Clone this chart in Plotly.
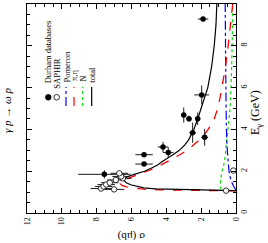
import plotly.graph_objects as go

# ---------------- data (E in GeV, sigma in microbarn) ----------------
durham_E = [9.28, 5.65, 4.69, 4.51, 4.51, 3.84, 3.62, 3.16, 2.89, 2.79, 2.34, 1.85]
durham_sigma = [1.89, 1.97, 3.00, 2.70, 2.20, 2.49, 1.80, 4.19, 3.89, 5.28, 5.28, 7.56]
durham_dE = [0.0, 0.45, 0.36, 0.15, 0.30, 0.48, 0.40, 0.25, 0.25, 0.10, 0.05, 0.20]
durham_dsigma = [0.30, 0.43, 0.15, 0.15, 0.15, 0.20, 0.20, 0.30, 0.30, 0.50, 0.50, 1.50]

saphir_E = [1.07, 1.13, 1.17, 1.27, 1.36, 1.45, 1.58, 1.66, 1.75, 1.90, 2.03]
saphir_sigma = [0.57, 7.00, 7.75, 7.60, 7.45, 7.25, 6.90, 6.50, 6.60, 6.70, 0.15]
saphir_dsigma = [0.0, 0.60, 0.60, 0.50, 0.50, 0.50, 0.50, 0.50, 0.50, 0.50, 0.0]

total_E = [1.07, 1.08, 1.09, 1.10, 1.12, 1.15, 1.20, 1.27, 1.35, 1.45, 1.55, 1.65, 1.75,
           1.85, 2.00, 2.15, 2.30, 2.45, 2.60, 2.80, 3.00, 3.25, 3.50, 3.75, 4.00,
           4.50, 5.00, 5.50, 6.00, 7.00, 8.00, 9.00, 10.0]
total_sigma = [0.0, 0.8, 1.8, 2.8, 3.8, 4.6, 5.3, 5.75, 6.05, 6.3, 6.42, 6.4, 6.2,
               5.85, 5.25, 4.85, 4.5, 4.25, 4.0, 3.6, 3.25, 2.95, 2.72, 2.55, 2.42,
               2.20, 2.00, 1.80, 1.62, 1.40, 1.25, 1.15, 1.10]

pieta_E = [1.06, 1.07, 1.08, 1.09, 1.11, 1.14, 1.19, 1.25, 1.32, 1.40, 1.48, 1.58, 1.70,
           1.85, 2.00, 2.15, 2.30, 2.45, 2.60, 2.80, 3.00, 3.25, 3.50, 3.75, 4.00,
           4.50, 5.00, 5.50, 6.00, 7.00, 8.00, 9.00, 10.0]
pieta_sigma = [0.0, 1.2, 2.5, 3.5, 4.5, 5.3, 5.9, 6.3, 6.55, 6.65, 6.6, 6.4, 6.05,
               5.6, 5.05, 4.65, 4.3, 3.95, 3.6, 3.2, 2.8, 2.45, 2.1, 1.82, 1.60,
               1.25, 1.05, 0.92, 0.80, 0.60, 0.45, 0.30, 0.19]

pomeron_E = [1.10, 1.20, 1.30, 1.45, 1.60, 1.80, 2.00, 2.50, 3.00, 4.00, 6.00, 8.00, 10.0]
pomeron_sigma = [0.0, 0.08, 0.15, 0.23, 0.30, 0.36, 0.40, 0.45, 0.50, 0.55, 0.58, 0.60, 0.62]

nucleon_E = [1.08, 1.11, 1.15, 1.22, 1.30, 1.60, 2.00, 2.50, 3.40, 4.90, 7.00, 10.0]
nucleon_sigma = [0.50, 0.72, 0.85, 0.89, 0.90, 0.88, 0.80, 0.65, 0.55, 0.35, 0.25, 0.18]

legend_labels = ["Durham databases", "SAPHIR", "Pomeron", "π,η", "N", "total"]

FONT = "Liberation Serif"
W, H = 268, 243
L, R, T, B = 27, 236, 4, 213


def px(xp):
    return (xp - L) / (R - L)


def py(yp):
    return (B - yp) / (B - T)


fig = go.Figure()

fig.add_trace(go.Scatter(x=nucleon_sigma, y=nucleon_E, mode="lines",
                         line=dict(color="#00dd00", width=1.2, dash="dot", shape="spline", smoothing=0.6)))
fig.add_trace(go.Scatter(x=pomeron_sigma, y=pomeron_E, mode="lines",
                         line=dict(color="#0000ff", width=1.2, dash="dashdot", shape="spline", smoothing=0.6)))
fig.add_trace(go.Scatter(x=pieta_sigma, y=pieta_E, mode="lines",
                         line=dict(color="#ff0000", width=1.3, dash="dash")))
fig.add_trace(go.Scatter(x=total_sigma, y=total_E, mode="lines",
                         line=dict(color="black", width=1.2)))

fig.add_trace(go.Scatter(
    x=durham_sigma, y=durham_E, mode="markers",
    marker=dict(color="black", size=5.5, symbol="circle"),
    error_x=dict(type="data", array=durham_dsigma, color="black", thickness=0.9, width=0),
    error_y=dict(type="data", array=durham_dE, color="black", thickness=0.9, width=0)))
fig.add_trace(go.Scatter(
    x=saphir_sigma, y=saphir_E, mode="markers",
    marker=dict(color="white", size=5.5, symbol="circle", line=dict(color="black", width=0.8)),
    error_x=dict(type="data", array=saphir_dsigma, color="black", thickness=0.9, width=0)))

# ---------------- hand-drawn rotated legend ----------------
shapes = []
leg_x = [48.3, 56.7, 66.0, 74.0, 82.7, 91.7]
leg_text_center = [52, 73, 67.5, 76, 79, 75]
shapes.append(dict(type="circle", xref="paper", yref="paper",
                   x0=px(leg_x[0] - 2.8), x1=px(leg_x[0] + 2.8), y0=py(100.1), y1=py(94.5),
                   fillcolor="black", line=dict(color="black", width=0.8)))
shapes.append(dict(type="circle", xref="paper", yref="paper",
                   x0=px(leg_x[1] - 2.8), x1=px(leg_x[1] + 2.8), y0=py(100.1), y1=py(94.5),
                   fillcolor="white", line=dict(color="black", width=0.8)))
for xx, col, dash in [(leg_x[2], "#0000ff", "dashdot"), (leg_x[3], "#ff0000", "dash"),
                      (leg_x[4], "#00dd00", "dot"), (leg_x[5], "black", "solid")]:
    shapes.append(dict(type="line", xref="paper", yref="paper",
                       x0=px(xx), x1=px(xx), y0=py(106), y1=py(87),
                       line=dict(color=col, width=1.2, dash=dash)))

annotations = []
for xx, yc, lab in zip(leg_x, leg_text_center, legend_labels):
    annotations.append(dict(x=px(xx), y=py(yc), xref="paper", yref="paper",
                            text=lab, showarrow=False, textangle=-90,
                            xanchor="center", yanchor="middle",
                            font=dict(family=FONT, size=8.5, color="black")))

annotations.append(dict(x=px(131), y=py(237), xref="paper", yref="paper",
                        text="σ (μb)", showarrow=False, textangle=180,
                        xanchor="center", yanchor="middle",
                        font=dict(family=FONT, size=11, color="black")))
annotations.append(dict(x=px(256), y=py(113), xref="paper", yref="paper",
                        text="E<sub>γ</sub> (GeV)", showarrow=False, textangle=-90,
                        xanchor="center", yanchor="middle",
                        font=dict(family=FONT, size=12, color="black")))
annotations.append(dict(x=px(7), y=py(110), xref="paper", yref="paper",
                        text="<i>γ p → ω p</i>", showarrow=False, textangle=-90,
                        xanchor="center", yanchor="middle",
                        font=dict(family=FONT, size=11, color="black")))

fig.update_layout(
    width=W, height=H,
    margin=dict(l=L, r=W - R, t=T, b=H - B, pad=0),
    paper_bgcolor="white", plot_bgcolor="white",
    showlegend=False,
    shapes=shapes, annotations=annotations,
)

axis_common = dict(
    showgrid=False, zeroline=False, showline=True, linecolor="black", linewidth=1,
    mirror="allticks", ticks="inside", ticklen=5, tickwidth=1, tickcolor="black",
    tickangle=-90, dtick=2, tick0=0,
    tickfont=dict(family=FONT, size=8, color="black"),
    minor=dict(ticks="inside", ticklen=3, dtick=0.5, tickcolor="black", showgrid=False),
)
fig.update_xaxes(range=[12, 0], **axis_common)
fig.update_yaxes(range=[0, 10], side="right", **axis_common)

fig.write_html("out.html", config={"displayModeBar": False},
               post_script="document.body.style.margin='0';document.body.style.overflow='hidden';")
